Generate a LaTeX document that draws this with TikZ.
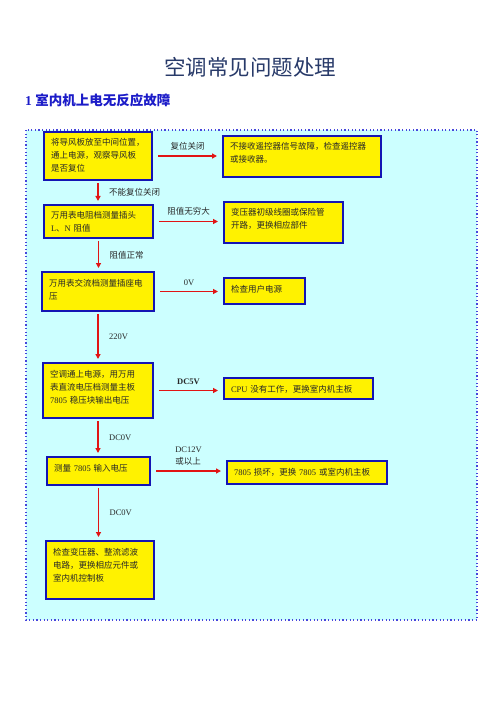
\documentclass[tikz,border=0pt]{standalone}
\usepackage{fontspec}
\setmainfont{Liberation Serif}
\newfontfamily\cjk{Noto Sans CJK SC}
\usetikzlibrary{arrows.meta}
\definecolor{titleblue}{RGB}{40,58,105}
\definecolor{headblue}{RGB}{28,28,200}
\definecolor{boxblue}{RGB}{20,20,180}
\definecolor{bgcyan}{RGB}{204,255,255}
\definecolor{dotblue}{RGB}{70,70,220}
\definecolor{arrred}{RGB}{225,20,20}
\definecolor{txtgray}{RGB}{40,40,40}

\begin{document}
\begin{tikzpicture}
  [x=1pt,y=-1pt,
   fbox/.style={draw=boxblue,line width=2pt,fill=yellow,anchor=north west,
     outer sep=0pt,inner xsep=7pt,inner ysep=6pt,text width=#1-14pt,
     text height=8pt,align=left,text=txtgray,
     font=\cjk\fontsize{8.5}{13}\selectfont},
   arr/.style={draw=arrred,line width=1.6pt,-{Triangle[length=5pt,width=5pt]}},
   lab/.style={text=txtgray,font=\cjk\fontsize{8.5}{12}\selectfont,align=left}]
  \useasboundingbox (0,0) rectangle (500,708);

  % title
  \node[text=titleblue,font=\cjk\fontsize{21.5}{24}\selectfont] (title) at (250,67) {空调常见问题处理};
  \node[anchor=west,text=headblue,font=\fontsize{13.5}{16}\selectfont\bfseries,inner sep=0pt] (head) at (25,100) {1 {\cjk\bfseries 室内机上电无反应故障}};

  % background
  \draw[dotblue,line width=1.2pt,dash pattern=on 1.2pt off 2.4pt,fill=bgcyan] (26,130) rectangle (477,620);

  % left column
  \node[fbox=108pt,text depth=28pt] (b1) at (44,132) {将导风板放至中间位置，\\通上电源，观察导风板\\是否复位};
  \node[fbox=109pt,text depth=13pt] (b2) at (44,205) {万用表电阻档测量插头\\\textrm{L}、\textrm{N} 阻值};
  \node[fbox=112pt,text depth=19pt] (b3) at (42,272) {万用表交流档测量插座电\\压};
  \node[fbox=110pt,text depth=35pt] (b4) at (43,363) {空调通上电源，用万用\\表直流电压档测量主板\\\textrm{7805} 稳压块输出电压};
  \node[fbox=103pt,text depth=8pt] (b5) at (47,457) {测量 \textrm{7805} 输入电压};
  \node[fbox=108pt,text depth=38pt] (b6) at (46,541) {检查变压器、整流滤波\\电路，更换相应元件或\\室内机控制板};

  % right column
  \node[fbox=158pt,text depth=21pt] (r1) at (223,136) {不接收遥控器信号故障，检查遥控器\\或接收器。};
  \node[fbox=119pt,text depth=21pt] (r2) at (224,202) {变压器初级线圈或保险管\\开路，更换相应部件};
  \node[fbox=81pt,text depth=6pt] (r3) at (224,278) {检查用户电源};
  \node[fbox=149pt,text depth=1pt] (r4) at (224,378) {\textrm{CPU} 没有工作，更换室内机主板};
  \node[fbox=160pt,text depth=3pt] (r5) at (227,461) {\textrm{7805} 损坏，更换 \textrm{7805} 或室内机主板};

  % arrows to the right
  \foreach \from/\to/\txt in {b1/r1/{复位关闭},b2/r2/{阻值无穷大},b3/r3/{\rmfamily 0V},
      b4/r4/{\rmfamily\bfseries DC5V},b5/r5/{\rmfamily DC12V\\\cjk 或以上}}
    \draw[arr,shorten <=6pt,shorten >=6pt] (\from.east) -- (\to.west |- \from.east)
      node[lab,midway,above,yshift=2pt] (l\from) {\txt};

  % arrows down
  \foreach \from/\to/\txt in {b1/b2/{不能复位关闭},b2/b3/{阻值正常},b3/b4/{\rmfamily 220V},
      b4/b5/{\rmfamily DC0V},b5/b6/{\rmfamily DC0V}}
    \draw[arr,shorten <=3pt,shorten >=4pt] (\from.south) -- (\from.south |- \to.north)
      node[lab,midway,right,xshift=7pt] (d\from) {\txt};
\end{tikzpicture}
\end{document}
